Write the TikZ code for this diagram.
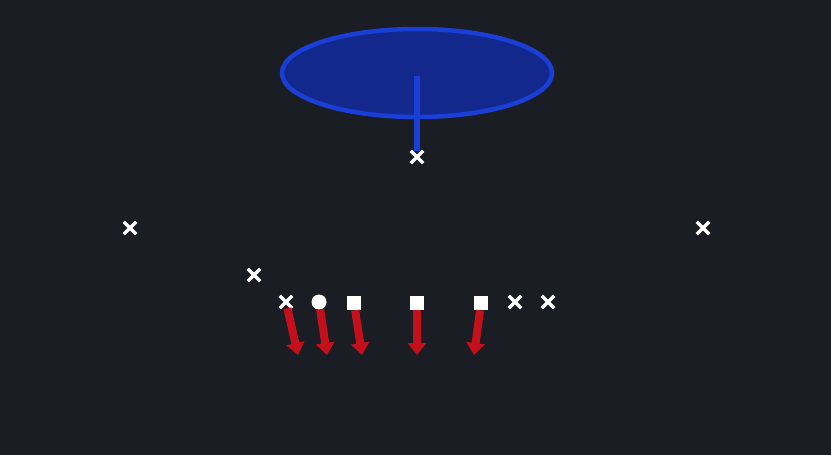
\documentclass[tikz,border=0pt]{standalone}
\usepackage{tikz}
\usetikzlibrary{arrows.meta, positioning, shapes, calc}

\definecolor{bgdark}{HTML}{1A1D24}
\definecolor{zonefill}{HTML}{13288C}
\definecolor{zoneline}{HTML}{1A3FD6}
\definecolor{routered}{HTML}{C4101A}

\begin{document}
\begin{tikzpicture}[x=1pt, y=-1pt,
        every node/.style={inner sep=0pt},
        xmark/.style={cross out,draw=white,line width=3.4pt,minimum size=9pt},
        omark/.style={circle,fill=white,minimum size=15pt},
        smark/.style={rectangle,fill=white,minimum size=14pt},
        route/.style={-{Triangle[width=18pt,length=12pt]},routered,line width=8pt}]
        % 背景
        \fill[bgdark] (0,0) rectangle (831,455);
        \useasboundingbox (0,0) rectangle (831,455);
        % 蓝色区域
        \node[ellipse,draw=zoneline,fill=zonefill,line width=4.5pt,
              minimum width=270pt,minimum height=88pt] (zone) at (417,73) {};
        \coordinate (zc) at (417,76);
        % 防守球员
        \node[xmark] (d0) at (417,157) {};
        \node[xmark] (d1) at (130,228) {};
        \node[xmark] (d2) at (703,228) {};
        \node[xmark] (d3) at (254,275) {};
        \node[xmark] (d4) at (286,302) {};
        \node[xmark] (d5) at (515,302) {};
        \node[xmark] (d6) at (548,302) {};
        % 进攻球员
        \node[omark] (o1) at (319,302) {};
        \node[smark] (s1) at (354,303) {};
        \node[smark] (s2) at (417,303) {};
        \node[smark] (s3) at (481,303) {};
        % 路线终点
        \coordinate (e1) at (298,355);
        \coordinate (e2) at (327,355);
        \coordinate (e3) at (362,355);
        \coordinate (e4) at (417,355);
        \coordinate (e5) at (474,355);
        % 区域连线
        \draw[zoneline,line width=6pt] (zc) -- (d0);
        % 红色路线
        \draw[route] (d4) -- (e1);
        \draw[route] (o1) -- (e2);
        \draw[route] (s1) -- (e3);
        \draw[route] (s2) -- (e4);
        \draw[route] (s3) -- (e5);
    \end{tikzpicture}
\end{document}
